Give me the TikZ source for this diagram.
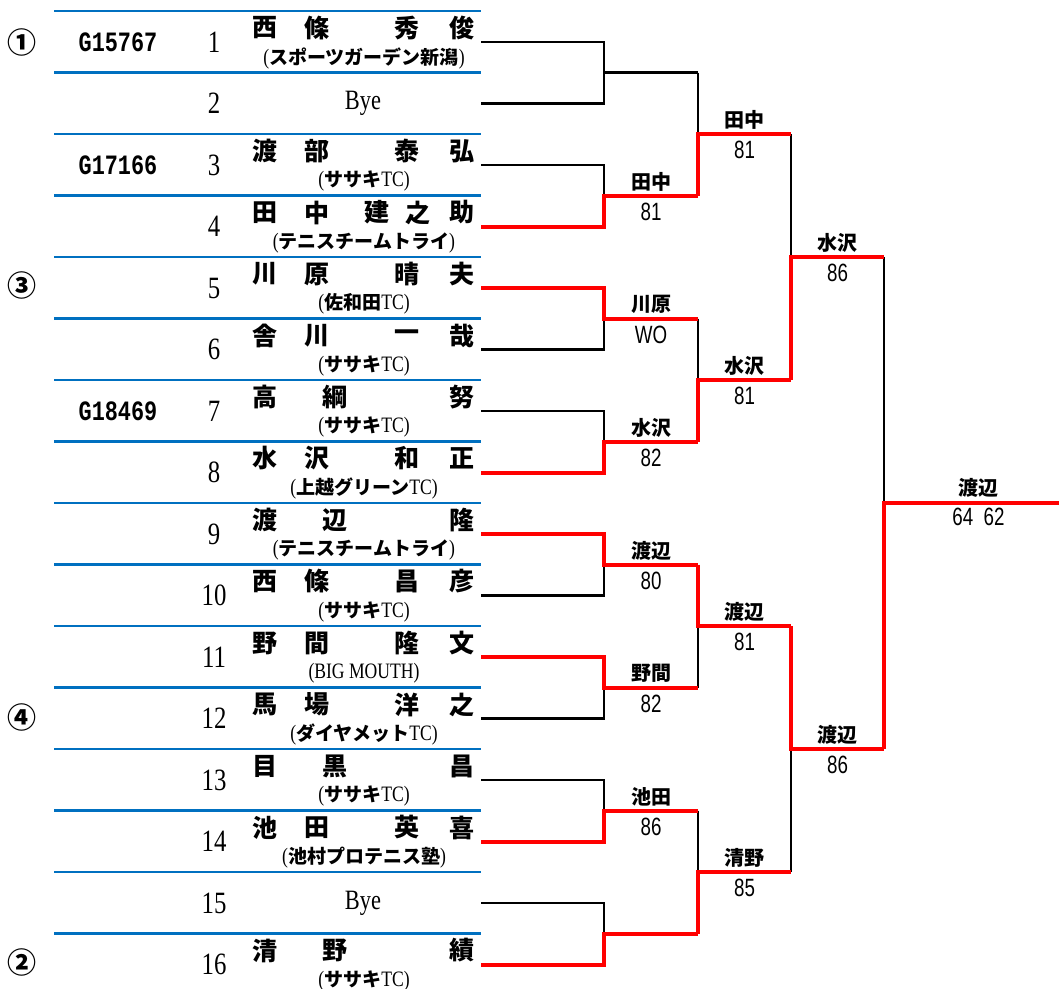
\documentclass[tikz,border=0pt]{standalone}
\usepackage{fontspec}
\newfontfamily\jp{Noto Sans CJK JP}
\newfontfamily\nser[FakeStretch=0.8]{Liberation Serif}
\newfontfamily\nsan[FakeStretch=0.75]{Liberation Sans}
\newfontfamily\gcode[FakeStretch=0.78]{Liberation Mono}
\definecolor{tblue}{HTML}{0070C0}
\definecolor{tred}{HTML}{FF0000}
\newcommand\affl[2]{{\nser\mdseries\fontsize{22}{22}\selectfont(}{\jp\bfseries #1}{\nser\mdseries\fontsize{22}{22}\selectfont #2)}}
\tikzset{
  nm/.style={inner sep=0pt, font=\jp\bfseries\fontsize{25}{25}\selectfont},
  aff/.style={inner sep=0pt, font=\jp\bfseries\fontsize{19}{19}\selectfont},
  num/.style={inner sep=0pt, font=\nser\fontsize{31}{31}\selectfont},
  bye/.style={inner sep=0pt, font=\nser\fontsize{28}{28}\selectfont},
  gc/.style={inner sep=0pt, font=\gcode\bfseries\fontsize{28}{28}\selectfont},
  seed/.style={inner sep=0pt, font=\jp\bfseries\fontsize{29}{29}\selectfont},
  lname/.style={inner sep=0pt, font=\jp\bfseries\fontsize{20}{20}\selectfont},
  score/.style={inner sep=0pt, font=\nsan\fontsize{25}{25}\selectfont},
  rowline/.style={draw=tblue, line width=2.5pt},
  blk/.style={draw=black, line width=2.5pt},
  win/.style={draw=tred, line width=4pt},
}
\begin{document}
\begin{tikzpicture}[x=1pt,y=-1pt]
\useasboundingbox (0,0) rectangle (1059,988);
% row separator lines
\foreach \k in {1,...,16}{
  \pgfmathsetmacro\T{11+61.5*(\k-1)}
  \coordinate (L\k) at (54,\T);
  \coordinate (R\k) at (481,\T);
  \draw[rowline] (L\k) -- (R\k);
}
% seeds
\node[seed] (s1) at (22,42) {①};
\node[seed] (s3) at (22,285) {③};
\node[seed] (s4) at (22,717) {④};
\node[seed] (s2) at (22,962) {②};
% codes
\node[gc] (g1) at (118,42) {G15767};
\node[gc] (g3) at (118,165) {G17166};
\node[gc] (g7) at (118,411) {G18469};
% numbers
\foreach \k in {1,...,16}{
  \pgfmathsetmacro\Y{42+61.5*(\k-1)}
  \node[num] (no\k) at (214,\Y) {\k};
  \coordinate (P\k) at (481,\Y);
}
% byes
\node[bye] (bye2) at (363,103.5) {Bye};
\node[bye] (bye15) at (363,903) {Bye};
% names 2+2
\foreach \k/\a/\b/\c/\d in {1/西/條/秀/俊,3/渡/部/泰/弘,5/川/原/晴/夫,6/舎/川/一/哉,8/水/沢/和/正,10/西/條/昌/彦,11/野/間/隆/文,12/馬/場/洋/之,14/池/田/英/喜}{
  \pgfmathsetmacro\Y{28+61.5*(\k-1)}
  \node[nm] (n\k a) at (265,\Y) {\a};
  \node[nm] (n\k b) at (317,\Y) {\b};
  \node[nm] (n\k c) at (407,\Y) {\c};
  \node[nm] (n\k d) at (462,\Y) {\d};
}
% names 2+1
\foreach \k/\a/\b/\c in {7/高/綱/努,9/渡/辺/隆,13/目/黒/昌,16/清/野/績}{
  \pgfmathsetmacro\Y{28+61.5*(\k-1)}
  \node[nm] (n\k a) at (265,\Y) {\a};
  \node[nm] (n\k b) at (335,\Y) {\b};
  \node[nm] (n\k c) at (462,\Y) {\c};
}
% name 2+3
\node[nm] (n4a) at (265,212.5) {田};
\node[nm] (n4b) at (317,212.5) {中};
\node[nm] (n4c) at (377,212.5) {建};
\node[nm] (n4d) at (418,212.5) {之};
\node[nm] (n4e) at (462,212.5) {助};
% affiliations
\foreach \k/\a/\b in {1/スポーツガーデン新潟/,3/ササキ/TC,4/テニスチームトライ/,5/佐和田/TC,6/ササキ/TC,7/ササキ/TC,8/上越グリーン/TC,9/テニスチームトライ/,10/ササキ/TC,12/ダイヤメット/TC,13/ササキ/TC,14/池村プロテニス塾/,16/ササキ/TC}{
  \pgfmathsetmacro\Y{58+61.5*(\k-1)}
  \node[aff] (a\k) at (364,\Y) {\affl{\a}{\b}};
}
\node[aff, font=\nser\fontsize{22}{22}\selectfont] (a11) at (364,673) {(BIG MOUTH)};
% bracket coordinates
\foreach \m in {1,...,8}{
  \pgfmathsetmacro\Y{72.5+123*(\m-1)}
  \coordinate (A\m) at (604,\Y);
  \coordinate (A\m e) at (698,\Y);
}
\foreach \n in {1,...,4}{
  \pgfmathsetmacro\Y{134+246*(\n-1)}
  \coordinate (B\n) at (698,\Y);
  \coordinate (B\n e) at (791,\Y);
}
\coordinate (C1) at (791,257);  \coordinate (C1e) at (884,257);
\coordinate (C2) at (791,749);  \coordinate (C2e) at (884,749);
\coordinate (D) at (884,503);   \coordinate (De) at (1059,503);
% black (losing) lines
\draw[blk] (P1) -| (A1);
\draw[blk] (P2) -| (A1);
\draw[blk] (A1) -- (A1e);
\draw[blk] (P3) -| (A2);
\draw[blk] (P6) -| (A3);
\draw[blk] (P7) -| (A4);
\draw[blk] (P10) -| (A5);
\draw[blk] (P12) -| (A6);
\draw[blk] (P13) -| (A7);
\draw[blk] (P15) -| (A8);
\draw[blk] (A1e) -- (B1);
\draw[blk] (A3e) -- (B2);
\draw[blk] (A6e) -- (B3);
\draw[blk] (A7e) -- (B4);
\draw[blk] (B1e) -- (C1);
\draw[blk] (B4e) -- (C2);
\draw[blk] (C1e) -- (D);
% red (winning) lines
\draw[win] (P4) -| (A2) -- (A2e);
\draw[win] (P5) -| (A3) -- (A3e);
\draw[win] (P8) -| (A4) -- (A4e);
\draw[win] (P9) -| (A5) -- (A5e);
\draw[win] (P11) -| (A6) -- (A6e);
\draw[win] (P14) -| (A7) -- (A7e);
\draw[win] (P16) -| (A8) -- (A8e);
\draw[win] (A2e) -- (B1) -- (B1e);
\draw[win] (A4e) -- (B2) -- (B2e);
\draw[win] (A5e) -- (B3) -- (B3e);
\draw[win] (A8e) -- (B4) -- (B4e);
\draw[win] (B2e) -- (C1) -- (C1e);
\draw[win] (B3e) -- (C2) -- (C2e);
\draw[win] (C2e) -- (D) -- (De);
% labels
\foreach \p/\w/\s in {A2/田中/81,A3/川原/WO,A4/水沢/82,A5/渡辺/80,A6/野間/82,A7/池田/86,B1/田中/81,B2/水沢/81,B3/渡辺/81,B4/清野/85,C1/水沢/86,C2/渡辺/86}{
  \path (\p) -- (\p e) node[midway, yshift=14pt, lname] (w\p) {\w}
                       node[midway, yshift=-16pt, score] (r\p) {\s};
}
\path (D) -- (De) node[pos=0.54, yshift=15pt, lname] (wD) {渡辺}
                  node[pos=0.54, yshift=-14pt, score] (rD) {64\ \ 62};
\end{tikzpicture}
\end{document}
